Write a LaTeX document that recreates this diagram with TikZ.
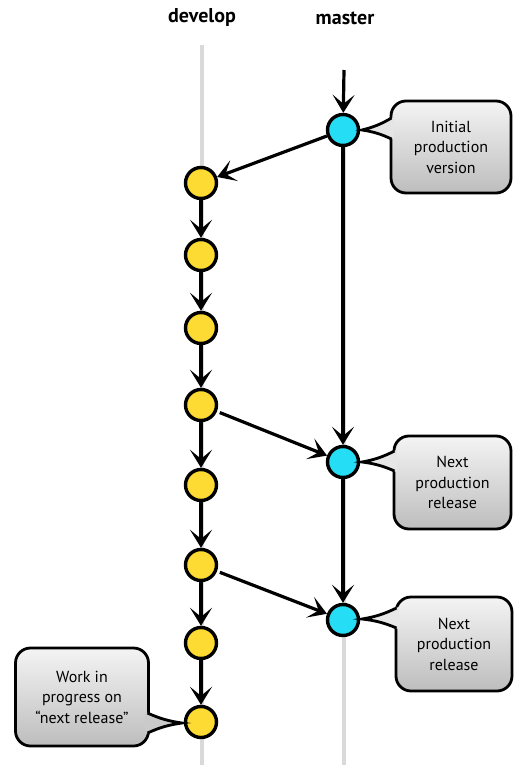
\documentclass[tikz,border=0pt]{standalone}
\usepackage{fontspec}
\setmainfont{PT Sans}
\usetikzlibrary{arrows.meta,calc}
\definecolor{devyellow}{HTML}{FDDB32}
\definecolor{mascyan}{HTML}{25DDF4}
\definecolor{lanegray}{HTML}{D9D9D9}
\definecolor{notetop}{HTML}{F4F4F4}
\definecolor{notebot}{HTML}{BDBDBD}
\begin{document}
\begin{tikzpicture}[x=1pt,y=-1pt,
  commit/.style={circle,draw=black,line width=3.4pt,minimum size=31pt,inner sep=0pt},
  dev/.style={commit,fill=devyellow},
  mas/.style={commit,fill=mascyan},
  flow/.style={line width=3.2pt,-{Stealth[length=18pt,width=22pt,inset=9pt]}},
  lane/.style={line width=4pt,draw=lanegray},
  lanelabel/.style={font=\bfseries\fontsize{20}{24}\selectfont},
  note/.style={draw=black,line width=2.8pt,rounded corners=15pt,top color=notetop,bottom color=notebot,align=center,font=\fontsize{16}{20.5}\selectfont,inner sep=0pt},
  ptr/.style={draw=black,line width=2.8pt,line join=miter},
]
\useasboundingbox (0,0) rectangle (525,765);

% headers
\node[lanelabel] (hdev) at (202,18) {develop};
\node[lanelabel] (hmas) at (345,18) {master};

% lanes
\coordinate (dtop) at (202,45);
\coordinate (dbot) at (202,765);
\coordinate (mlt) at (344,130);
\coordinate (mbot) at (344,765);
\draw[lane] (dtop) -- (dbot);
\draw[lane] (mlt) -- (mbot);

% commits
\node[mas] (m1) at (343,130) {};
\node[mas] (m2) at (343,462) {};
\node[mas] (m3) at (343,620) {};
\node[dev] (d1) at (201,183) {};
\node[dev] (d2) at (201,255) {};
\node[dev] (d3) at (201,328) {};
\node[dev] (d4) at (201,405) {};
\node[dev] (d5) at (201,485) {};
\node[dev] (d6) at (201,565) {};
\node[dev] (d7) at (201,643) {};
\node[dev] (d8) at (201,722) {};

% connectors
\coordinate (mtop) at (344,70);
\draw[flow] (mtop) -- (m1);
\draw[flow] (m1) -- (m2);
\draw[flow] (m2) -- (m3);
\draw[flow] (m1) -- (d1);
\draw[flow,shorten <=3pt] (d4) -- (m2);
\draw[flow,shorten <=3pt] (d6) -- (m3);
\foreach \a/\b in {d1/d2,d2/d3,d3/d4,d4/d5,d5/d6,d6/d7,d7/d8}
  \draw[flow] (\a) -- (\b);

% callouts
\node[note,minimum width=120pt,minimum height=92pt] (c1) at (451,147) {Initial\\production\\version};
\fill[fill=notetop!72!notebot] (394,117) -- (362,130) -- (394,139) -- cycle;
\draw[ptr] (391.5,118) to[bend left=8] (362,130) to[bend left=8] (391.5,139);

\node[note,minimum width=117pt,minimum height=93pt] (c2) at (452.5,482.5) {Next\\production\\release};
\fill[fill=notetop!74!notebot] (397,450) -- (362,462) -- (397,472) -- cycle;
\draw[ptr] (394.5,451) to[bend left=8] (362,462) to[bend left=8] (394.5,471);

\node[note,minimum width=116pt,minimum height=94pt] (c3) at (454,644) {Next\\production\\release};
\fill[fill=notetop!76!notebot] (399,607) -- (362,619) -- (399,629) -- cycle;
\draw[ptr] (396.5,608) to[bend left=8] (362,619) to[bend left=8] (396.5,628);

\node[note,minimum width=133pt,minimum height=98pt] (c4) at (82,697) {Work in\\progress on\\“next release”};
\fill[fill=notetop!24!notebot] (145,712) -- (182,723) -- (145,734) -- cycle;
\draw[ptr] (147.5,713) to[bend right=8] (182,723) to[bend right=8] (147.5,733);

\end{tikzpicture}
\end{document}
